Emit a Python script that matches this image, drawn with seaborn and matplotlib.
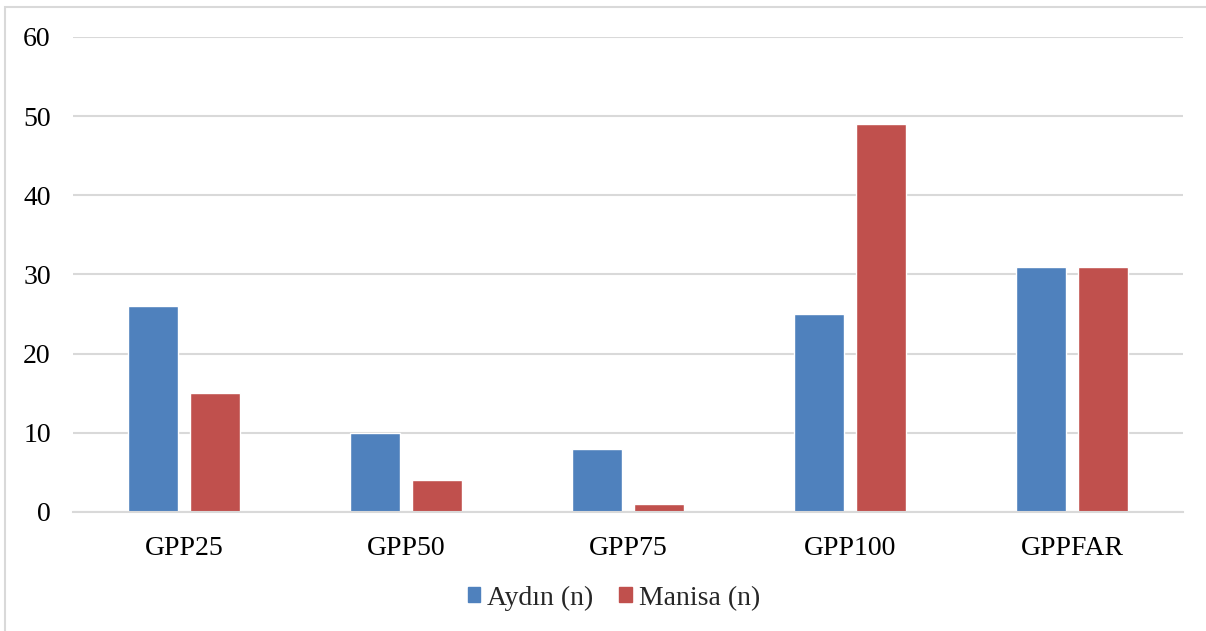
import pandas as pd
import matplotlib
matplotlib.use('Agg')
import matplotlib.pyplot as plt
import matplotlib.patches as mpatches
import seaborn as sns

categories = ['GPP25', 'GPP50', 'GPP75', 'GPP100', 'GPPFAR']
aydin = [26, 10, 8, 25, 31]
manisa = [15, 4, 1, 49, 31]
series_names = ['Aydın (n)', 'Manisa (n)']

df = pd.DataFrame({
    'category': categories * 2,
    'value': aydin + manisa,
    'series': [series_names[0]] * len(categories) + [series_names[1]] * len(categories),
})

sns.set_style('white')
plt.rcParams['font.family'] = ['Liberation Serif', 'DejaVu Serif']

fig = plt.figure(figsize=(12.06, 6.31), dpi=100)
ax = fig.add_axes([0.0605, 0.1886, 0.9205, 0.7528])

sns.barplot(data=df, x='category', y='value', hue='series',
            palette=['#4F81BD', '#C0504D'], width=0.56, gap=0.2,
            saturation=1, ax=ax)

ax.set_ylim(0, 60)
ax.set_yticks(range(0, 61, 10))
ax.set_xlim(-0.5, len(categories) - 0.5)
ax.yaxis.grid(True, color='#D9D9D9', linewidth=1.5)
ax.set_axisbelow(True)
for s in ['top', 'right', 'left']:
    ax.spines[s].set_visible(False)
ax.spines['bottom'].set_color('#D9D9D9')
ax.spines['bottom'].set_linewidth(1.5)
ax.tick_params(axis='both', length=0, labelsize=20, colors='black')
ax.tick_params(axis='x', pad=17)
ax.tick_params(axis='y', pad=16)
ax.set_xlabel('')
ax.set_ylabel('')

ax.legend_.remove()
handles = [mpatches.Patch(color='#4F81BD'), mpatches.Patch(color='#C0504D')]
fig.legend(handles, series_names, loc='center', bbox_to_anchor=(0.509, 0.052),
           ncol=2, frameon=False, fontsize=20, handlelength=0.45, handleheight=0.45,
           handletextpad=0.25, columnspacing=0.93)

border = mpatches.Rectangle((5 / 1206, -0.01), 1.0, 1 - 7 / 631 + 0.01,
                            transform=fig.transFigure, fill=False,
                            edgecolor='#D9D9D9', linewidth=1.5)
fig.patches.append(border)

fig.savefig('out.png', dpi=100)
